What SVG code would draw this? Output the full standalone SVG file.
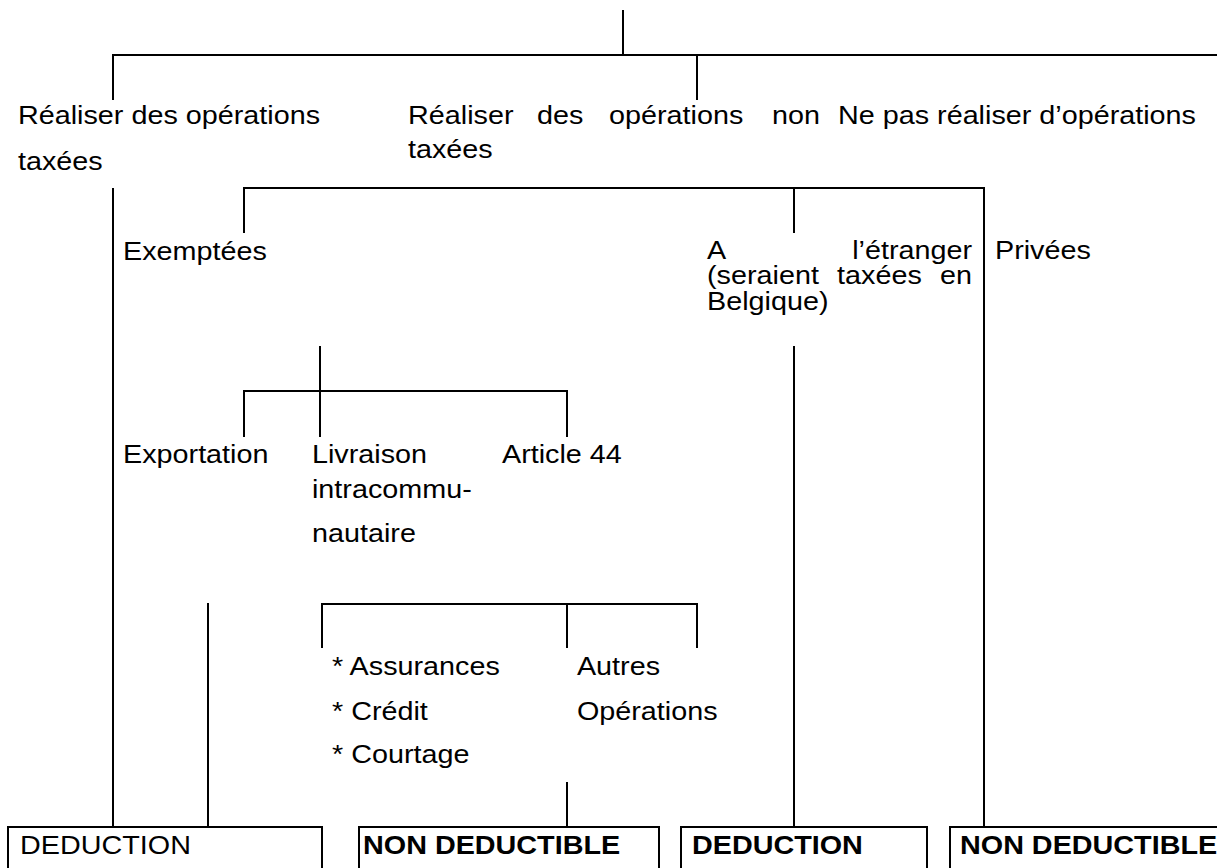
<svg xmlns="http://www.w3.org/2000/svg" width="1217" height="868" viewBox="0 0 1217 868">
<style>
.t{font-family:"Liberation Sans",Arial,Helvetica,sans-serif;font-size:25px;fill:#000}
.b{font-weight:bold}
.ln{stroke:#000;stroke-width:2;fill:none}
.box{stroke:#000;stroke-width:2;fill:#fff}
</style>
<rect width="1217" height="868" fill="#fff"/>
<g id="connectors" class="ln">
<path d="M623,10 V55"/>
<path d="M113,100 V55 H1217"/>
<path d="M697,55 V100"/>
<path d="M113,188 V827"/>
<path d="M244,233 V188 H984 V827"/>
<path d="M794,188 V233"/>
<path d="M794,346 V827"/>
<path d="M244,437 V391 H567 V437"/>
<path d="M320,346 V437"/>
<path d="M208,603 V827"/>
<path d="M322,648 V604 H697 V648"/>
<path d="M567,604 V648"/>
<path d="M567,782 V827"/>
</g>
<g id="n-taxees">
<text class="t" transform="scale(1.15,1)"><tspan x="15.65" y="124">Réaliser des opérations</tspan><tspan x="15.65" y="170">taxées</tspan></text>
</g>
<g id="n-non-taxees">
<text class="t" transform="scale(1.15,1)"><tspan x="354.8" y="124">Réaliser</tspan><tspan x="467" y="124">des</tspan><tspan x="529.6" y="124">opérations</tspan><tspan x="671.3" y="124">non</tspan><tspan x="354.8" y="158">taxées</tspan></text>
</g>
<g id="n-pas">
<text class="t" transform="scale(1.15,1)" x="728.7" y="124">Ne pas réaliser d’opérations</text>
</g>
<g id="n-exemptees">
<text class="t" transform="scale(1.15,1)" x="107" y="260">Exemptées</text>
</g>
<g id="n-etranger">
<text class="t" transform="scale(1.15,1)"><tspan x="614.8" y="259">A</tspan><tspan x="741" y="259">l’étranger</tspan><tspan x="614.8" y="284">(seraient</tspan><tspan x="727.9" y="284">taxées</tspan><tspan x="817.4" y="284">en</tspan><tspan x="614.8" y="310">Belgique)</tspan></text>
</g>
<g id="n-privees">
<text class="t" transform="scale(1.15,1)" x="865.2" y="259">Privées</text>
</g>
<g id="n-exportation">
<text class="t" transform="scale(1.15,1)" x="107" y="463">Exportation</text>
</g>
<g id="n-livraison">
<text class="t" transform="scale(1.15,1)"><tspan x="271.3" y="463">Livraison</tspan><tspan x="271.3" y="498">intracommu-</tspan><tspan x="271.3" y="542">nautaire</tspan></text>
</g>
<g id="n-article44">
<text class="t" transform="scale(1.15,1)" x="436.5" y="463">Article 44</text>
</g>
<g id="n-assurances">
<text class="t" transform="scale(1.15,1)"><tspan x="288.7" y="675">* Assurances</tspan><tspan x="288.7" y="720">* Crédit</tspan><tspan x="288.7" y="763">* Courtage</tspan></text>
</g>
<g id="n-autres">
<text class="t" transform="scale(1.15,1)"><tspan x="501.7" y="675">Autres</tspan><tspan x="501.7" y="720">Opérations</tspan></text>
</g>
<g id="box-deduction1">
<rect class="box" x="8" y="827" width="314" height="60"/>
<text class="t" transform="scale(1.15,1)" x="17.4" y="854">DEDUCTION</text>
</g>
<g id="box-nondeductible1">
<rect class="box" x="359" y="827" width="300" height="60"/>
<text class="t b" transform="scale(1.15,1)" x="315.7" y="854">NON DEDUCTIBLE</text>
</g>
<g id="box-deduction2">
<rect class="box" x="681" y="827" width="246" height="60"/>
<text class="t b" transform="scale(1.15,1)" x="601.7" y="854">DEDUCTION</text>
</g>
<g id="box-nondeductible2">
<rect class="box" x="950" y="827" width="300" height="60"/>
<text class="t b" transform="scale(1.15,1)" x="834.8" y="854">NON DEDUCTIBLE</text>
</g>
</svg>
